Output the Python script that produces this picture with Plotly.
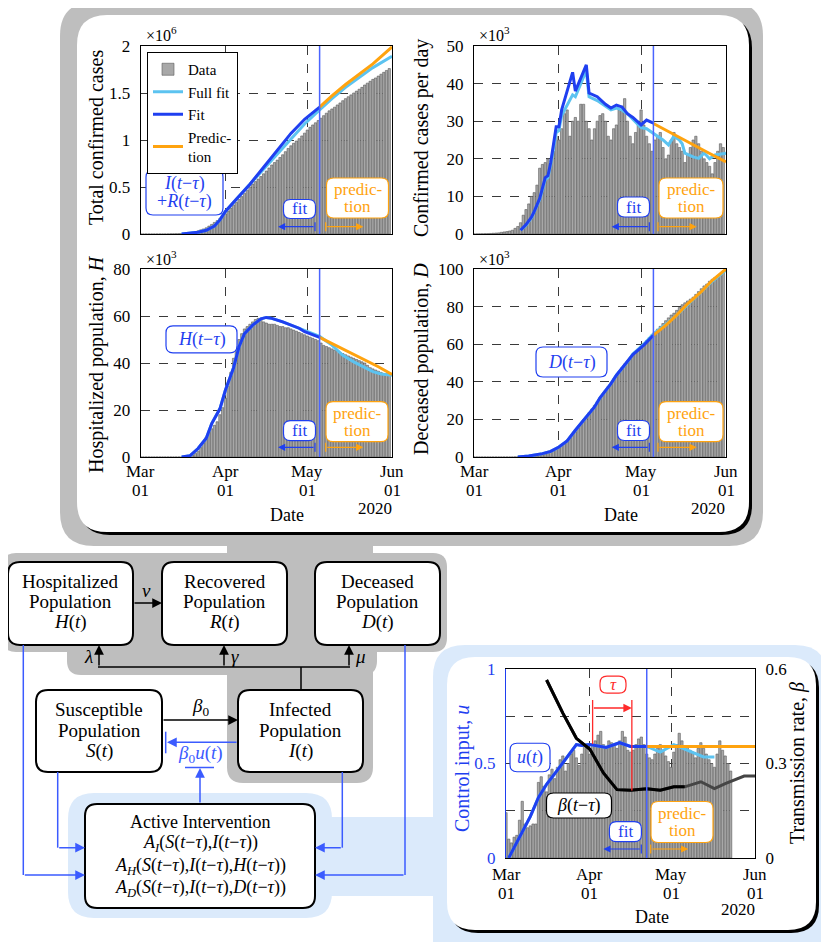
import pandas as pd
import plotly.graph_objects as go

FONT = "Liberation Serif"
# The page body keeps its default 8 px margin, so the figure is drawn 8 px smaller
# and every layout position (given in window pixels) is shifted by that margin.
OFF = 8
W, H = 829 - OFF, 942 - OFF
def X(p): return (p - OFF) / W
def Y(p): return 1 - (p - OFF) / H

# ---------------- data ----------------
days = pd.date_range('2020-03-01', '2020-05-31').strftime('%Y-%m-%d').tolist()
tick_dates = ['2020-03-01', '2020-04-01', '2020-05-01', '2020-06-01']
tick_month = ['Mar', 'Apr', 'May', 'Jun']
tick_day = ['01', '01', '01', '01']

total_cases = [0.0001,0.0001,0.0001,0.0001,0.0002,0.0002,0.0003,0.0004,0.0005,0.0007,
 0.001,0.0016,0.0021,0.0027,0.0036,0.0047,0.0065,0.009,0.014,0.019,
 0.025,0.034,0.044,0.054,0.066,0.084,0.102,0.123,0.142,0.164,
 0.188,0.214,0.244,0.276,0.309,0.337,0.367,0.398,0.432,0.466,
 0.501,0.531,0.558,0.584,0.611,0.640,0.670,0.702,0.734,0.760,
 0.786,0.814,0.843,0.876,0.910,0.938,0.965,0.989,1.014,1.043,
 1.073,1.106,1.135,1.160,1.183,1.207,1.232,1.259,1.285,1.310,
 1.330,1.349,1.373,1.394,1.418,1.440,1.460,1.480,1.500,1.520,
 1.540,1.560,1.585,1.605,1.625,1.645,1.660,1.680,1.700,1.720,
 1.740,1.760]

daily_cases = [0.02,0.03,0.05,0.06,0.08,0.1,0.15,0.2,0.25,0.3,
 0.45,0.55,0.65,0.8,1.0,1.5,2.0,3.0,5.0,6.5,
 8.0,10.0,11.0,13.0,17.5,18.5,19.0,20.0,18.0,22.0,
 26.0,25.0,28.0,32.0,33.0,26.0,30.0,31.0,30.0,34.5,
 34.5,30.0,28.0,25.0,28.0,30.0,31.5,32.0,30.0,26.0,
 25.0,28.0,29.0,33.0,34.0,36.0,30.0,26.0,24.0,27.0,
 30.0,33.0,29.0,26.0,24.0,22.0,25.0,26.0,27.0,23.0,
 20.0,21.0,25.0,27.0,24.0,23.0,22.0,19.0,21.0,23.0,
 25.0,26.0,24.0,22.0,20.0,19.0,18.0,16.0,19.0,22.0,
 24.0,23.0]

hospitalized = [0,0,0,0,0,0,0,0,0,0,
 0,0,0,0,0,0,0,0,0.3,0.8,
 1.5,2.5,4,6,8.5,10.5,12,13.5,15,18,
 21,25,30,36,42,47,50,52.5,54.5,55.5,
 56.5,57.5,58.5,59,58.5,57.5,57,56.5,56.5,56.5,
 56,55.5,55.5,55,55,54.5,54,53.5,53,52.5,
 52,51.5,51,50.5,50,49.5,48.5,47.5,47,46.5,
 46,45.5,45,44.5,44,43.5,43,42.5,42,41.5,
 41,40.5,40,39,38,37.5,37,36.5,36,35.5,
 35.5,35]

deceased = [0,0,0,0,0,0,0,0,0,0,
 0,0,0,0,0,0.05,0.07,0.1,0.15,0.2,
 0.3,0.4,0.5,0.7,0.9,1.2,1.6,2.0,2.5,3.1,
 4.0,5.0,6.2,7.5,9.0,10.5,12.0,13.5,15.5,17.5,
 19.5,21.5,23.5,25.5,27.5,29.5,31.5,33.5,35.5,37.5,
 39.5,41.5,43.5,45.5,47.5,49.5,51.0,52.5,54.0,55.5,
 57.5,59.0,60.5,62.0,63.5,65.0,66.5,68.0,69.5,71.0,
 72.5,74.0,75.5,76.5,78.0,79.5,81.0,82.0,83.0,84.0,
 85.0,86.5,88.0,89.5,91.0,92.0,93.5,94.5,95.5,96.5,
 97.5,99.0]

control_days = days[:84]
control_data = [0.24,0.10,0.08,0.11,0.12,0.20,0.30,0.18,0.16,0.17,
 0.18,0.18,0.40,0.43,0.38,0.35,0.44,0.47,0.42,0.48,
 0.52,0.54,0.46,0.50,0.55,0.57,0.53,0.49,0.55,0.59,
 0.58,0.55,0.60,0.62,0.65,0.67,0.60,0.58,0.62,0.61,
 0.60,0.58,0.62,0.67,0.64,0.57,0.56,0.57,0.60,0.63,
 0.64,0.60,0.55,0.53,0.52,0.55,0.58,0.60,0.57,0.54,
 0.51,0.48,0.56,0.60,0.66,0.62,0.58,0.59,0.57,0.56,
 0.53,0.58,0.61,0.58,0.55,0.52,0.50,0.48,0.55,0.62,
 0.57,0.54,0.50,0.46]

split_top = '2020-05-05 12:00'
split_ctrl = '2020-04-22'

# panel 1 lines (x10^6)
fit1_x = ['2020-03-16','2020-03-19','2020-03-22','2020-03-25','2020-03-28','2020-03-30','2020-04-01',
          '2020-04-05','2020-04-10','2020-04-15','2020-04-20','2020-04-25','2020-04-30',split_top]
fit1_y = [0,0.005,0.018,0.04,0.085,0.15,0.24,0.37,0.53,0.71,0.89,1.07,1.22,1.35]
full1_x = fit1_x[:-1] + [split_top,'2020-05-10','2020-05-15','2020-05-20','2020-05-25','2020-06-01']
full1_y = [0,0.005,0.018,0.04,0.085,0.15,0.24,0.37,0.53,0.70,0.86,1.02,1.17,1.32,1.44,1.56,1.67,1.77,1.89]
pred1_x = [split_top,'2020-05-10','2020-05-15','2020-05-20','2020-05-25','2020-06-01']
pred1_y = [1.35,1.47,1.59,1.70,1.81,1.99]

# panel 2 lines (x10^3)
fit2_x = ['2020-03-18','2020-03-20','2020-03-22','2020-03-23','2020-03-25','2020-03-27','2020-03-28',
          '2020-03-29','2020-03-31','2020-04-01','2020-04-02','2020-04-06','2020-04-07','2020-04-11',
          '2020-04-12','2020-04-15','2020-04-18','2020-04-20','2020-04-22','2020-04-24','2020-04-26',
          '2020-04-28','2020-05-01','2020-05-03',split_top]
fit2_y = [1,2.5,4.5,6,9.5,15,15.5,19,28.5,28.5,33,43,38,45,37.5,36.5,34.5,33.5,34.3,33.8,32,31,29,30.3,29.5]
full2_x = fit2_x + ['2020-05-09','2020-05-11','2020-05-13','2020-05-15','2020-05-16','2020-05-17',
                    '2020-05-20','2020-05-22','2020-05-24','2020-05-25','2020-05-26','2020-05-28','2020-06-01']
full2_y = [1,2.3,4.3,5.8,9.2,14.5,15,18.5,27,27.5,31.5,37,36.5,43.5,36.5,35.5,34,33,33.5,33,32,30.5,28.3,
           28,26.8,25,23.7,26,25,24,21.5,20.5,20.1,21.5,20.8,20,21,21.5]
pred2_x = [split_top,'2020-05-10','2020-05-15','2020-05-20','2020-05-25','2020-06-01']
pred2_y = [29.4,27.6,25.8,23.8,21.8,19.2]

# panel 3 lines (x10^3)
fit3_x = ['2020-03-16','2020-03-19','2020-03-22','2020-03-25','2020-03-27','2020-03-30','2020-04-01',
          '2020-04-04','2020-04-06','2020-04-08','2020-04-11','2020-04-14','2020-04-16','2020-04-18',
          '2020-04-22','2020-04-25','2020-04-28','2020-04-30','2020-05-03',split_top]
fit3_y = [0,0.5,3.6,8,14.2,20.5,28.4,38,46.9,52.5,56.1,58.8,59.4,59,57.5,56.1,54.8,53.3,52,50.9]
full3_x = fit3_x + ['2020-05-10','2020-05-14','2020-05-18','2020-05-22','2020-05-25','2020-05-28','2020-06-01']
full3_y = [0,0.5,3.6,8,14.2,20.5,28.4,38,46.9,52.5,56.1,58.8,59.4,59,57.5,56.1,55,53.8,52.5,51.3,47.6,
           43.3,40.5,38,36.3,35.3,34.8]
pred3_x = [split_top,'2020-05-10','2020-05-15','2020-05-21','2020-05-27','2020-06-01']
pred3_y = [50.9,48.3,45.5,41.9,38.4,35.1]

# panel 4 lines (x10^3)
fit4_x = ['2020-03-17','2020-03-21','2020-03-26','2020-03-29','2020-04-01','2020-04-04','2020-04-07',
          '2020-04-10','2020-04-14','2020-04-16','2020-04-20','2020-04-22','2020-04-26','2020-04-28',
          '2020-05-02',split_top]
fit4_y = [0,0.5,1.8,3,5.3,8.5,14.2,19.5,26.6,31.5,39,43.5,50.6,54.5,59.5,64.8]
full4_x = fit4_x[:-3] + ['2020-04-28','2020-05-02',split_top,'2020-05-10','2020-05-14','2020-05-18',
                          '2020-05-23','2020-05-27','2020-06-01']
full4_y = fit4_y[:-3] + [54.8,60,65.5,70.5,75.5,81,87.5,93.5,99.5]
pred4_x = [split_top,'2020-05-10','2020-05-14','2020-05-18','2020-05-23','2020-05-27','2020-06-01']
pred4_y = [64.8,70,75.5,81.5,88,94,100]

# panel 5 lines
u_fit_x = ['2020-03-02','2020-03-06','2020-03-10','2020-03-13','2020-03-16','2020-03-20','2020-03-24',
           '2020-03-27','2020-03-29','2020-04-01','2020-04-03','2020-04-07','2020-04-12','2020-04-16',split_ctrl]
u_fit_y = [0,0.11,0.22,0.32,0.39,0.465,0.54,0.6,0.595,0.6,0.595,0.585,0.61,0.59,0.59]
u_full_x = u_fit_x + ['2020-04-27','2020-05-02','2020-05-08','2020-05-13','2020-05-17']
u_full_y = u_fit_y + [0.56,0.60,0.565,0.535,0.535]
u_pred_x = [split_ctrl,'2020-06-01']
u_pred_y = [0.59,0.59]
beta_fit_x = ['2020-03-16','2020-03-22','2020-03-27','2020-04-01','2020-04-06','2020-04-11','2020-04-16',
              '2020-04-22','2020-04-27','2020-05-02','2020-05-06']
beta_fit_y = [0.565,0.46,0.38,0.345,0.27,0.217,0.215,0.22,0.215,0.226,0.226]
beta_full_x = beta_fit_x + ['2020-05-12','2020-05-17','2020-05-21','2020-05-28','2020-06-01']
beta_full_y = beta_fit_y + [0.242,0.22,0.236,0.26,0.26]

# ---------------- styling ----------------
C_FIT = '#1f3ff0'
C_FULL = '#5cc3f0'
C_PRED = '#ffa30f'
C_DIAG = '#3b5bff'
C_RED = '#ff2a2a'
GRAY = '#bebebe'
LBLUE = '#dbeafb'
BAR = dict(color='#a8a8a8', line=dict(color='#5a5a5a', width=0.6))
DAY = 86400000 * 0.85

fig = go.Figure()

def add_panel(xa, ya, bars, full, fit, pred, legend=False, bar_x=days):
    fig.add_trace(go.Bar(x=bar_x, y=bars, width=DAY, marker=BAR, xaxis=xa, yaxis=ya,
                         name='Data', showlegend=legend))
    fig.add_trace(go.Scatter(x=full[0], y=full[1], mode='lines', line=dict(color=C_FULL, width=3),
                             xaxis=xa, yaxis=ya, name='Full fit', showlegend=legend))
    fig.add_trace(go.Scatter(x=fit[0], y=fit[1], mode='lines', line=dict(color=C_FIT, width=3),
                             xaxis=xa, yaxis=ya, name='Fit', showlegend=legend))
    fig.add_trace(go.Scatter(x=pred[0], y=pred[1], mode='lines', line=dict(color=C_PRED, width=3),
                             xaxis=xa, yaxis=ya, name='Predic-<br>tion', showlegend=legend))

add_panel('x', 'y', total_cases, (full1_x, full1_y), (fit1_x, fit1_y), (pred1_x, pred1_y), legend=True)
add_panel('x2', 'y2', daily_cases, (full2_x, full2_y), (fit2_x, fit2_y), (pred2_x, pred2_y))
add_panel('x3', 'y3', hospitalized, (full3_x, full3_y), (fit3_x, fit3_y), (pred3_x, pred3_y))
add_panel('x4', 'y4', deceased, (full4_x, full4_y), (fit4_x, fit4_y), (pred4_x, pred4_y))

fig.add_trace(go.Bar(x=control_days, y=control_data, width=DAY, marker=BAR, xaxis='x5', yaxis='y5', showlegend=False))
fig.add_trace(go.Scatter(x=beta_full_x, y=beta_full_y, mode='lines', line=dict(color='#454545', width=3),
                         xaxis='x5', yaxis='y6', showlegend=False))
fig.add_trace(go.Scatter(x=beta_fit_x, y=beta_fit_y, mode='lines', line=dict(color='black', width=3),
                         xaxis='x5', yaxis='y6', showlegend=False))
fig.add_trace(go.Scatter(x=u_full_x, y=u_full_y, mode='lines', line=dict(color=C_FULL, width=3),
                         xaxis='x5', yaxis='y5', showlegend=False))
fig.add_trace(go.Scatter(x=u_fit_x, y=u_fit_y, mode='lines', line=dict(color=C_FIT, width=3),
                         xaxis='x5', yaxis='y5', showlegend=False))
fig.add_trace(go.Scatter(x=u_pred_x, y=u_pred_y, mode='lines', line=dict(color=C_PRED, width=3),
                         xaxis='x5', yaxis='y5', showlegend=False))

TF = dict(family=FONT, size=17, color='black')

def xax(x0, x1, anchor):
    return dict(domain=[X(x0), X(x1)], anchor=anchor, type='date', range=['2020-03-01', '2020-06-01'],
                tickvals=tick_dates, showticklabels=False, automargin=False,
                showgrid=True, griddash='dash', gridcolor='#3a3a3a', gridwidth=1,
                showline=True, linecolor='black', linewidth=1, mirror=True, zeroline=False, ticks='')

def yax(y0, y1, anchor, rng, vals, text, color='black', linecolor='black', mirror=True):
    return dict(domain=[Y(y1), Y(y0)], anchor=anchor, range=rng, tickvals=vals, ticktext=text,
                automargin=False, showgrid=True, griddash='dash', gridcolor='#3a3a3a', gridwidth=1,
                showline=True, linecolor=linecolor, linewidth=1, mirror=mirror, zeroline=False,
                ticks='outside', ticklen=6, tickcolor='rgba(0,0,0,0)',
                tickfont=dict(family=FONT, size=17, color=color))

layout = dict(
    width=W, height=H, margin=dict(l=0, r=0, t=0, b=0, pad=0), autosize=False,
    paper_bgcolor='white', plot_bgcolor='rgba(0,0,0,0)', barmode='overlay',
    xaxis=xax(140.7, 392, 'y'),
    yaxis=yax(46, 234, 'x', [0, 2], [0, 0.5, 1, 1.5, 2], ['0', '0.5', '1', '1.5', '2']),
    xaxis2=xax(474, 726, 'y2'),
    yaxis2=yax(46, 234, 'x2', [0, 50], [0, 10, 20, 30, 40, 50], ['0', '10', '20', '30', '40', '50']),
    xaxis3=xax(140.7, 392, 'y3'),
    yaxis3=yax(269, 457, 'x3', [0, 80], [0, 20, 40, 60, 80], ['0', '20', '40', '60', '80']),
    xaxis4=xax(474, 726, 'y4'),
    yaxis4=yax(269, 457, 'x4', [0, 100], [0, 20, 40, 60, 80, 100], ['0', '20', '40', '60', '80', '100']),
    xaxis5=xax(506, 755, 'y5'),
    yaxis5=yax(669, 858, 'x5', [0, 1], [0, 0.25, 0.5, 0.75, 1], ['0', '', '0.5', '', '1'],
               color=C_FIT, linecolor=C_FIT, mirror=False),
    yaxis6=dict(overlaying='y5', side='right', anchor='x5', range=[0, 0.6], tickvals=[0, 0.3, 0.6],
                ticktext=['0', '0.3', '0.6'], showgrid=False, zeroline=False, showline=True, automargin=False,
                linecolor='black', linewidth=1, ticks='outside', ticklen=6, tickcolor='rgba(0,0,0,0)',
                tickfont=TF),
    legend=dict(x=X(147), y=Y(52), xanchor='left', yanchor='top', bgcolor='white', bordercolor='black',
                borderwidth=1, font=dict(family=FONT, size=15, color='black'), tracegroupgap=0,
                itemwidth=30),
    showlegend=True,
)

shapes = []
annotations = []

def rrect(x0, y0, x1, y1, r):
    return (f"M{X(x0+r)},{Y(y0)} L{X(x1-r)},{Y(y0)} Q{X(x1)},{Y(y0)} {X(x1)},{Y(y0+r)} "
            f"L{X(x1)},{Y(y1-r)} Q{X(x1)},{Y(y1)} {X(x1-r)},{Y(y1)} "
            f"L{X(x0+r)},{Y(y1)} Q{X(x0)},{Y(y1)} {X(x0)},{Y(y1-r)} "
            f"L{X(x0)},{Y(y0+r)} Q{X(x0)},{Y(y0)} {X(x0+r)},{Y(y0)} Z")

def box(x0, y0, x1, y1, r, fill, lc=None, lw=0, layer='below'):
    shapes.append(dict(type='path', path=rrect(x0, y0, x1, y1, r), xref='paper', yref='paper',
                       fillcolor=fill, line=dict(color=lc or fill, width=lw), layer=layer))

def seg(x0, y0, x1, y1, color, width=1.5, layer='below'):
    shapes.append(dict(type='line', xref='paper', yref='paper', x0=X(x0), y0=Y(y0), x1=X(x1), y1=Y(y1),
                       line=dict(color=color, width=width), layer=layer))

def arrow(xh, yh, xt, yt, color, width=1.5, size=1.3):
    annotations.append(dict(x=X(xh), y=Y(yh), xref='paper', yref='paper', ax=xt - xh, ay=yt - yh,
                            axref='pixel', ayref='pixel', text='', showarrow=True, arrowhead=2,
                            arrowsize=size, arrowwidth=width, arrowcolor=color, standoff=0))

def text(x, y, s, size=18, color='black', angle=0, xanchor='center'):
    annotations.append(dict(x=X(x), y=Y(y), xref='paper', yref='paper', text=s, showarrow=False,
                            textangle=angle, xanchor=xanchor, yanchor='middle',
                            font=dict(family=FONT, size=size, color=color)))

def lines(cx, cy, rows, spacing, size=18, color='black'):
    n = len(rows)
    for i, s in enumerate(rows):
        text(cx, cy + (i - (n - 1) / 2) * spacing, s, size=size, color=color)

def label(cx, cy, w, h, rows, color, size=17, spacing=17, r=7):
    box(cx - w/2, cy - h/2, cx + w/2, cy + h/2, r, 'white', color, 1.2, layer='above')
    lines(cx, cy, rows, spacing, size=size, color=color)

# backgrounds
box(60, 2, 763, 546, 34, GRAY)
box(227, 535, 373, 560, 0, GRAY)
box(2, 553, 447, 652, 14, GRAY)
box(67, 620, 377, 675, 14, GRAY)
box(227, 600, 373, 783, 16, GRAY)
box(80, 18, 752, 535, 30, 'black')
box(77, 15, 749, 532, 30, 'white')
box(68, 793, 332, 918, 26, LBLUE)
box(300, 817, 460, 896, 0, LBLUE)
box(433, 645, 827, 975, 32, LBLUE)
box(450, 660, 819, 933, 28, 'black')
box(447, 657, 816, 930, 28, 'white')

# diagram boxes
for (x0, y0, x1, y1) in [(8, 562, 133, 645), (162, 562, 287, 645), (315, 562, 440, 645),
                         (36, 690, 162, 772), (238, 690, 363, 772), (85, 804, 315, 908)]:
    box(x0, y0, x1, y1, 12, 'white', 'black', 2)

lines(70.5, 601.5, ['Hospitalized', 'Population', '<i>H</i>(<i>t</i>)'], 20.5, size=19)
lines(224.5, 601.5, ['Recovered', 'Population', '<i>R</i>(<i>t</i>)'], 20.5, size=19)
lines(377.5, 601.5, ['Deceased', 'Population', '<i>D</i>(<i>t</i>)'], 20.5, size=19)
lines(99, 730, ['Susceptible', 'Population', '<i>S</i>(<i>t</i>)'], 20.8, size=19)
lines(300.5, 730, ['Infected', 'Population', '<i>I</i>(<i>t</i>)'], 20.8, size=19)
tm = '<i>t</i>−<i>τ</i>'
lines(200, 855, ['Active Intervention',
                 f'<i>A</i><sub><i>I</i></sub>(<i>S</i>({tm}),<i>I</i>({tm}))',
                 f'<i>A</i><sub><i>H</i></sub>(<i>S</i>({tm}),<i>I</i>({tm}),<i>H</i>({tm}))',
                 f'<i>A</i><sub><i>D</i></sub>(<i>S</i>({tm}),<i>I</i>({tm}),<i>D</i>({tm}))'], 22.2, size=18)

# black flows
arrow(162, 603, 133, 603, 'black')
text(146.7, 590, '<i>ν</i>', size=19)
seg(301, 690, 301, 667, 'black')
seg(98, 667, 350, 667, 'black')
arrow(99, 645, 99, 667, 'black')
arrow(224, 645, 224, 667, 'black')
arrow(349, 645, 349, 667, 'black')
text(88, 656, '<i>λ</i>', size=19)
text(235, 656, '<i>γ</i>', size=19)
text(360, 656, '<i>μ</i>', size=19)
arrow(238, 720, 162, 720, 'black')
text(200, 707, '<i>β</i><sub>0</sub>', size=19)

# blue feedback
arrow(167, 742.3, 238, 742.3, C_DIAG)
seg(165.7, 731.7, 165.7, 753.3, C_DIAG)
text(200, 754, '<i>β</i><sub>0</sub><i>u</i>(<i>t</i>)', size=19, color=C_DIAG)
seg(185, 767.5, 214, 767.5, C_DIAG)
arrow(200, 768, 200, 804, C_DIAG)
seg(23.3, 645, 23.3, 875, C_DIAG)
arrow(85, 875, 23.3, 875, C_DIAG)
seg(57.7, 772, 57.7, 847.7, C_DIAG)
arrow(85, 847.7, 57.7, 847.7, C_DIAG)
seg(342.3, 772, 342.3, 847.7, C_DIAG)
arrow(315, 847.7, 342.3, 847.7, C_DIAG)
seg(405, 645, 405, 875, C_DIAG)
arrow(315, 875, 405, 875, C_DIAG)

# split lines in panels
for xa, ya, xs in [('x', 'y', split_top), ('x2', 'y2', split_top), ('x3', 'y3', split_top),
                   ('x4', 'y4', split_top), ('x5', 'y5', split_ctrl)]:
    shapes.append(dict(type='line', xref=xa, yref=f'{ya} domain', x0=xs, x1=xs, y0=0, y1=1,
                       line=dict(color='#4a64ff', width=1.5), layer='above'))

# fit / prediction markers
def fitpred(fit_c, pred_c, ay, fit_tail, fit_head, pred_tail, pred_head):
    label(*fit_c, ['fit'], C_FIT)
    label(*pred_c, ['predic-', 'tion'], C_PRED, spacing=16.7)
    arrow(fit_head, ay, fit_tail, ay, C_FIT, 1.2, 1.2)
    seg(fit_tail, ay - 4.5, fit_tail, ay + 4.5, C_FIT, 1.2, 'above')
    arrow(pred_head, ay, pred_tail, ay, C_PRED, 1.2, 1.2)
    seg(pred_tail, ay - 4.5, pred_tail, ay + 4.5, C_PRED, 1.2, 'above')

fitpred((299.5, 209, 32, 19), (357.5, 198, 62, 40), 226.7, 315, 278, 325.7, 363.3)
fitpred((633.5, 207, 32, 20), (691, 198, 64, 40), 226.7, 649.3, 611.7, 658, 696.7)
fitpred((299.5, 430.7, 32, 20), (357, 421.7, 62, 40), 447.3, 315, 278, 325.7, 363.3)
fitpred((633.5, 430.5, 32, 20), (691, 421.7, 64, 40), 447.3, 649.3, 611.7, 658, 696.7)
fitpred((625.4, 831.7, 32, 20), (682, 822, 62, 41), 849, 641.3, 603.3, 650.7, 688.3)

label(184.5, 192.5, 77, 45, [f'<i>I</i>({tm})', f'+<i>R</i>({tm})'], C_FIT, size=18, spacing=18.3)
label(201.5, 339.3, 71, 27, [f'<i>H</i>({tm})'], C_FIT, size=18)
label(571.5, 362, 71, 30, [f'<i>D</i>({tm})'], C_FIT, size=18)
label(530, 757.5, 40, 28.5, ['<i>u</i>(<i>t</i>)'], C_FIT, size=18)
label(579, 805.5, 65, 25, [f'<i>β</i>({tm})'], 'black', size=18)

# tau marker
for xs, ybot in [('2020-04-02', 744), ('2020-04-16 12:00', 790.5)]:
    shapes.append(dict(type='line', xref='x5', yref='paper', x0=xs, x1=xs, y0=Y(700), y1=Y(ybot),
                       line=dict(color=C_RED, width=1.3), layer='above'))
annotations.append(dict(x='2020-04-16 12:00', y=Y(708), xref='x5', yref='paper', ax=-39.5, ay=0,
                        axref='pixel', ayref='pixel', text='', showarrow=True, arrowhead=2, arrowsize=1.3,
                        arrowwidth=1.3, arrowcolor=C_RED, standoff=0))
label(613, 684.7, 26, 17, ['<i>τ</i>'], C_RED, size=17)

# x tick labels (two rows) placed on the axes' own date scale
for xa, y_m, y_d in [('x3', 471.7, 490.7), ('x4', 471.7, 490.7), ('x5', 874, 893.3)]:
    for d, m, dd in zip(tick_dates, tick_month, tick_day):
        for s, yy in [(m, y_m), (dd, y_d)]:
            annotations.append(dict(x=d, y=Y(yy), xref=xa, yref='paper', text=s, showarrow=False,
                                    xanchor='center', yanchor='middle', font=TF))

# axis titles and exponents
text(96, 138, 'Total confirmed cases', size=20, angle=-90)
text(422, 138, 'Confirmed cases per day', size=20, angle=-90)
text(96, 364, 'Hospitalized population, <i>H</i>', size=20, angle=-90)
text(422, 359, 'Deceased population, <i>D</i>', size=20, angle=-90)
text(462, 769, 'Control input, <i>u</i>', size=20, angle=-90, color=C_FIT)
text(797, 763, 'Transmission rate, <i>β</i>', size=20, angle=-90)
text(144, 34, '×10<sup>6</sup>', size=16, xanchor='left')
text(477, 34, '×10<sup>3</sup>', size=16, xanchor='left')
text(144, 258, '×10<sup>3</sup>', size=16, xanchor='left')
text(477, 258, '×10<sup>3</sup>', size=16, xanchor='left')
text(287, 515, 'Date', size=18)
text(621, 515, 'Date', size=18)
text(652, 917, 'Date', size=18)
text(375, 508, '2020', size=17)
text(708, 508, '2020', size=17)
text(738, 909, '2020', size=17)

layout['shapes'] = shapes
layout['annotations'] = annotations
fig.update_layout(**layout)
fig.write_html('out.html')
